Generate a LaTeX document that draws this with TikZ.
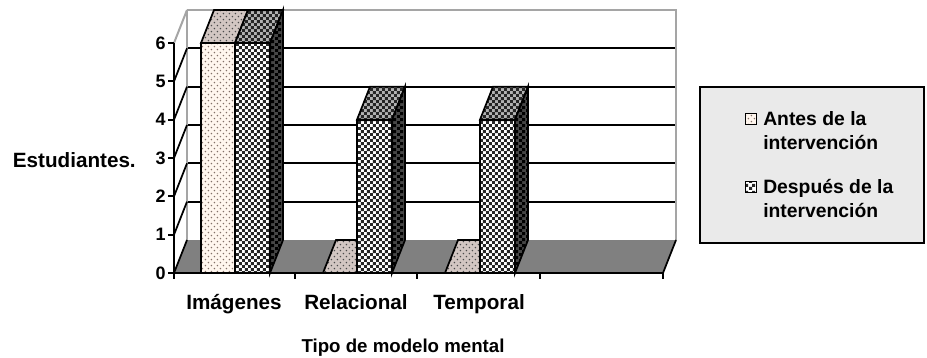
\documentclass[tikz,border=0pt]{standalone}
\usepackage{fontspec}
\setmainfont{Liberation Sans}
\usetikzlibrary{patterns,patterns.meta}
\definecolor{antesfront}{RGB}{255,246,238}
\definecolor{antestop}{RGB}{210,198,194}
\definecolor{antesdot}{RGB}{130,112,104}
\definecolor{floorgray}{RGB}{128,128,128}
\definecolor{wallgray}{RGB}{165,165,165}
\definecolor{legbg}{RGB}{234,234,234}
\tikzdeclarepattern{name=sdots, type=uncolored,
  bounding box={(-0.1pt,-0.1pt) and (4.6pt,4.6pt)},
  tile size={(4.5pt,4.5pt)},
  code={\fill (1.1pt,1.1pt) circle [radius=0.6pt];
        \fill (3.35pt,3.35pt) circle [radius=0.6pt];}}
\tikzdeclarepattern{name=fchk, type=uncolored,
  bounding box={(0pt,0pt) and (4.8pt,4.8pt)},
  tile size={(4.8pt,4.8pt)},
  code={\fill (0pt,0pt) rectangle (2.4pt,2.4pt);
        \fill (2.4pt,2.4pt) rectangle (4.8pt,4.8pt);}}
\begin{document}
\begin{tikzpicture}[x=0.75pt,y=-0.75pt,
  barline/.style={draw=black, line width=1.3pt, line join=miter},
  antesF/.style={barline, preaction={fill=antesfront}, pattern=sdots, pattern color=antesdot},
  antesT/.style={barline, preaction={fill=antestop}, pattern=sdots, pattern color=black!70},
  despF/.style={barline, preaction={fill=white}, pattern=fchk, pattern color=black!85},
  despT/.style={barline, preaction={fill=gray!60}, pattern=fchk, pattern color=black!85},
  despS/.style={barline, preaction={fill=gray!55!black}, pattern=fchk, pattern color=black},
  grid/.style={black, line width=1.3pt},
  wall/.style={wallgray, line width=1.5pt},
  ax/.style={black, line width=1.3pt},
  ticklbl/.style={font=\bfseries\fontsize{13.5}{15}\selectfont, inner sep=0pt},
  catlbl/.style={font=\bfseries\fontsize{15.5}{18}\selectfont, inner sep=0pt},
  ttl/.style={font=\bfseries\fontsize{14}{17}\selectfont, inner sep=0pt},
  legtxt/.style={font=\bfseries\fontsize{14.5}{18}\selectfont, inner sep=0pt, align=left},
  legbox/.style={draw=black, line width=1.6pt, fill=legbg, inner sep=0pt},
  legsym/.style={draw=black, line width=0.9pt, inner sep=0pt, minimum size=8.5pt}
]
\useasboundingbox (0,0) rectangle (927,357);
% back wall grid
\foreach \k in {1,...,5}{
  \draw[grid] (187,240-38.333*\k) -- (676,240-38.333*\k);
}
\draw[wall] (187,10) -- (676,10) -- (676,240);
\draw[wall] (187,10) -- (187,240);
% side wall diagonals
\foreach \k in {1,...,5}{
  \draw[ax] (174,273-38.333*\k) -- (187,240-38.333*\k);
}
\draw[wall] (174,43) -- (187,10);
% floor
\fill[floorgray] (174,273) -- (663,273) -- (676,240) -- (187,240) -- cycle;
\draw[ax] (187,240) -- (174,273) -- (663,273) -- (676,240);
% axis and ticks
\draw[ax] (174,43) -- (174,273);
\foreach \k in {0,...,6}{
  \draw[ax] (168,273-38.333*\k) -- (174,273-38.333*\k);
  \node[ticklbl, anchor=east] (t\k) at (166,273-38.333*\k) {\k};
}
\foreach \x in {174,295,417,540,663}{
  \draw[ax] (\x,273) -- (\x,279);
}
% category 1
\path[antesT] (201,43) -- (214,10) -- (248,10) -- (235,43) -- cycle;
\path[antesF] (201,273) rectangle (235,43);
\path[despF] (235,273) rectangle (270,43);
\path[despT] (235,43) -- (248,10) -- (283,10) -- (270,43) -- cycle;
\path[despS] (270,273) -- (270,43) -- (283,10) -- (283,240) -- cycle;
% category 2
\path[antesT] (323,273) -- (336,240) -- (370,240) -- (357,273) -- cycle;
\path[despF] (357,273) rectangle (392,119.7);
\path[despT] (357,119.7) -- (370,86.7) -- (405,86.7) -- (392,119.7) -- cycle;
\path[despS] (392,273) -- (392,119.7) -- (405,86.7) -- (405,240) -- cycle;
% category 3
\path[antesT] (445,273) -- (458,240) -- (492,240) -- (480,273) -- cycle;
\path[despF] (480,273) rectangle (515,119.7);
\path[despT] (480,119.7) -- (493,86.7) -- (528,86.7) -- (515,119.7) -- cycle;
\path[despS] (515,273) -- (515,119.7) -- (528,86.7) -- (528,240) -- cycle;
% labels
\node[catlbl, anchor=base east] (ylab) at (136,167) {Estudiantes.};
\node[catlbl, anchor=base] (c1) at (234,309) {Imágenes};
\node[catlbl, anchor=base] (c2) at (356,309) {Relacional};
\node[catlbl, anchor=base] (c3) at (479,309) {Temporal};
\node[ttl, anchor=base] (xlab) at (403,352) {Tipo de modelo mental};
% legend
\node[legbox, minimum width=168pt, minimum height=117pt] (legend) at (812,165) {};
\node[legsym, preaction={fill=antesfront}, pattern=sdots, pattern color=antesdot] (s1) at (751,119) {};
\node[legsym, preaction={fill=white}, pattern=fchk, pattern color=black!85] (s2) at (751,187) {};
\node[legtxt, anchor=west] (l1) at (763,131) {Antes de la\\intervención};
\node[legtxt, anchor=west] (l2) at (763,199) {Después de la\\intervención};
\end{tikzpicture}
\end{document}
